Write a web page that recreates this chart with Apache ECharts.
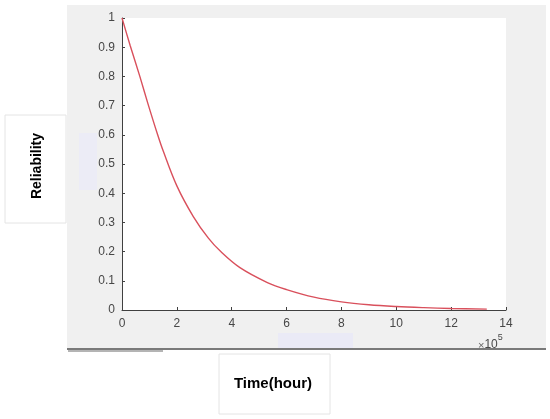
<!DOCTYPE html>
<html>
<head>
<meta charset="utf-8">
<script src="https://cdn.jsdelivr.net/npm/echarts@6/dist/echarts.min.js"></script>
<style>
  html, body { margin: 0; padding: 0; background: #fff; }
  #main { width: 550px; height: 419px; }
</style>
</head>
<body>
<div id="main"></div>
<script>
// time in hours
var hours = [0, 30000, 65000, 95000, 130000, 150000, 200000, 260000, 315000, 360000,
  430000, 530000, 600000, 700000, 800000, 900000, 1000000, 1100000, 1200000, 1330000]
var reliability = [1, 0.905, 0.8, 0.705, 0.6, 0.545, 0.425, 0.32, 0.246, 0.2,
  0.145, 0.094, 0.07, 0.044, 0.028, 0.018, 0.012, 0.008, 0.005, 0.003]
var xTitle = 'Time(hour)'
var yTitle = 'Reliability'

var points = hours.map(function (h, i) { return [h, reliability[i]] })

var tickFont = { color: '#474747', fontSize: 12, fontFamily: 'Liberation Sans' }

var myChart = echarts.init(document.getElementById('main'))
var option = {
  animation: false,
  backgroundColor: '#fff',
  graphic: {
    elements: [
      { type: 'rect', z: -10, shape: { x: 67, y: 5, width: 479, height: 344 }, style: { fill: '#f0f0f0' } },
      { type: 'rect', z: -9, shape: { x: 79, y: 133, width: 18, height: 57 }, style: { fill: '#ececf6' } },
      { type: 'rect', z: -9, shape: { x: 278, y: 333, width: 75, height: 15 }, style: { fill: '#eaeaf6' } },
      { type: 'rect', shape: { x: 67, y: 348, width: 479, height: 2 }, style: { fill: '#7a7a7a' } },
      { type: 'rect', shape: { x: 68, y: 350, width: 95, height: 2 }, style: { fill: '#b4b4b4' } },
      { type: 'rect', shape: { x: 5, y: 115, width: 61, height: 108 }, style: { fill: '#fff', stroke: '#e4e4e4', lineWidth: 1 } },
      { type: 'rect', shape: { x: 219, y: 354, width: 111, height: 60 }, style: { fill: '#fff', stroke: '#e4e4e4', lineWidth: 1 } },
      {
        type: 'text', x: 37, y: 166, rotation: Math.PI / 2,
        style: { text: yTitle, fontSize: 14, fontWeight: 'bold', fill: '#000', fontFamily: 'Liberation Sans', align: 'center', verticalAlign: 'middle' }
      },
      {
        type: 'text', x: 273, y: 384,
        style: { text: xTitle, fontSize: 15, fontWeight: 'bold', fill: '#000', fontFamily: 'Liberation Sans', align: 'center', verticalAlign: 'middle' }
      },
      {
        type: 'text', x: 478, y: 333,
        style: {
          text: '{a|×}{b|10}{c|5}',
          rich: {
            a: { fontSize: 11, fill: '#666', fontFamily: 'Liberation Sans', verticalAlign: 'bottom' },
            b: { fontSize: 12, fill: '#474747', fontFamily: 'Liberation Sans', verticalAlign: 'bottom' },
            c: { fontSize: 9, fill: '#474747', fontFamily: 'Liberation Sans', verticalAlign: 'top', padding: [0, 0, 9, 0] }
          }
        }
      }
    ]
  },
  grid: {
    left: 122, top: 18, right: 44, bottom: 109,
    show: true, backgroundColor: '#fff', borderWidth: 0
  },
  xAxis: {
    type: 'value', min: 0, max: 1400000, interval: 200000,
    axisLine: { show: true, onZero: false, lineStyle: { color: '#404040', width: 1 } },
    axisTick: { show: true, inside: true, length: 3, lineStyle: { color: '#404040' } },
    axisLabel: Object.assign({ margin: 8, formatter: function (v) { return String(v / 100000) } }, tickFont),
    splitLine: { show: false }
  },
  yAxis: {
    type: 'value', min: 0, max: 1, interval: 0.1,
    axisLine: { show: true, lineStyle: { color: '#404040', width: 1 } },
    axisTick: { show: true, inside: true, length: 3, lineStyle: { color: '#404040' } },
    axisLabel: Object.assign({ margin: 7 }, tickFont),
    splitLine: { show: false }
  },
  series: [
    {
      type: 'line',
      data: points,
      smooth: 0.35,
      showSymbol: false,
      lineStyle: { color: '#d9505c', width: 1.4 }
    }
  ]
};

myChart.setOption(option);
</script>
</body>
</html>
